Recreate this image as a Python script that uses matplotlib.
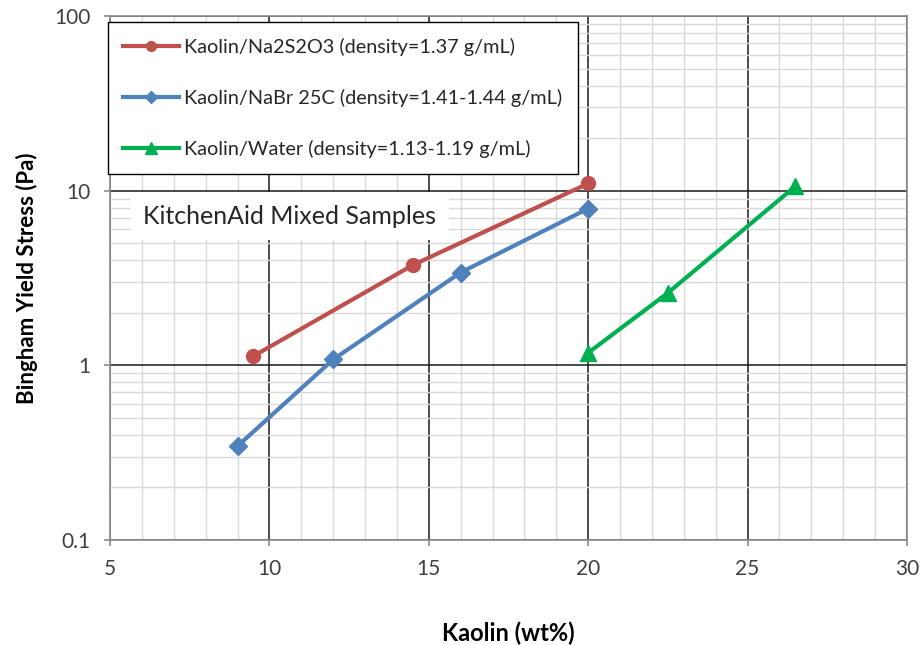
import numpy as np
import matplotlib.pyplot as plt
from matplotlib.ticker import LogLocator, NullFormatter, MultipleLocator

plt.rcParams['font.family'] = ['Lato', 'DejaVu Sans']

# Bingham yield stress vs kaolin loading
na2s2o3_wt = [9.5, 14.5, 20.0]
na2s2o3_ys = [1.13, 3.75, 11.0]

nabr_wt = [9.0, 12.0, 16.0, 20.0]
nabr_ys = [0.345, 1.08, 3.4, 7.9]

water_wt = [20.0, 22.5, 26.5]
water_ys = [1.18, 2.6, 10.6]

labels = [
    "Kaolin/Na2S2O3 (density=1.37 g/mL)",
    "Kaolin/NaBr 25C (density=1.41-1.44 g/mL)",
    "Kaolin/Water (density=1.13-1.19 g/mL)",
]

x_ticks = [5, 10, 15, 20, 25, 30]
y_ticks = [0.1, 1, 10, 100]
y_ticklabels = ["0.1", "1", "10", "100"]

fig = plt.figure(figsize=(9.23, 6.45), dpi=100)
ax = fig.add_axes([110 / 923, 105 / 645, 797 / 923, 524 / 645])

ax.set_yscale('log')
ax.set_xlim(5, 30)
ax.set_ylim(0.1, 100)

ax.set_xticks(x_ticks)
ax.xaxis.set_minor_locator(MultipleLocator(1))
ax.set_yticks(y_ticks)
ax.set_yticklabels(y_ticklabels)
ax.yaxis.set_minor_locator(LogLocator(base=10, subs=np.arange(2, 10)))
ax.yaxis.set_minor_formatter(NullFormatter())

ax.grid(which='minor', color='#D9D9D9', lw=1.0, zorder=0)
ax.grid(which='major', color='#1a1a1a', lw=1.1, zorder=0.5)
ax.set_axisbelow(True)

for s in ax.spines.values():
    s.set_color('#8c8c8c')
    s.set_linewidth(1.2)

ax.tick_params(which='major', direction='out', length=4, width=1.2, color='#8c8c8c',
               labelsize=15, labelcolor='#404040', pad=10)
ax.tick_params(which='minor', length=0)

ax.plot(na2s2o3_wt, na2s2o3_ys, color='#C0504D', lw=3, marker='o', ms=10,
        label=labels[0], zorder=3)
ax.plot(nabr_wt, nabr_ys, color='#4F81BD', lw=3, marker='D', ms=9,
        label=labels[1], zorder=3)
ax.plot(water_wt, water_ys, color='#00B050', lw=3, marker='^', ms=12,
        label=labels[2], zorder=3)

leg = ax.legend(loc='upper left', bbox_to_anchor=(-0.003, 0.989), borderaxespad=0,
                fontsize=14.3, handlelength=2.8, labelspacing=1.66, borderpad=0.8,
                handletextpad=0.25, fancybox=False, framealpha=1,
                edgecolor='black', markerscale=0.7)
leg.get_frame().set_linewidth(1.0)
for t in leg.get_texts():
    t.set_color('#262626')
leg.set_zorder(5)

ax.text(0.042, 0.618, "KitchenAid Mixed Samples", transform=ax.transAxes,
        fontsize=18, color='#262626', va='center', ha='left', zorder=4,
        bbox=dict(boxstyle='square,pad=0.5', fc='white', ec='none'))

ax.set_xlabel("Kaolin (wt%)", fontsize=17, fontweight='bold', labelpad=30)
ax.set_ylabel("Bingham Yield Stress (Pa)", fontsize=16, fontweight='bold', labelpad=12)

fig.savefig("out.png", dpi=100)
